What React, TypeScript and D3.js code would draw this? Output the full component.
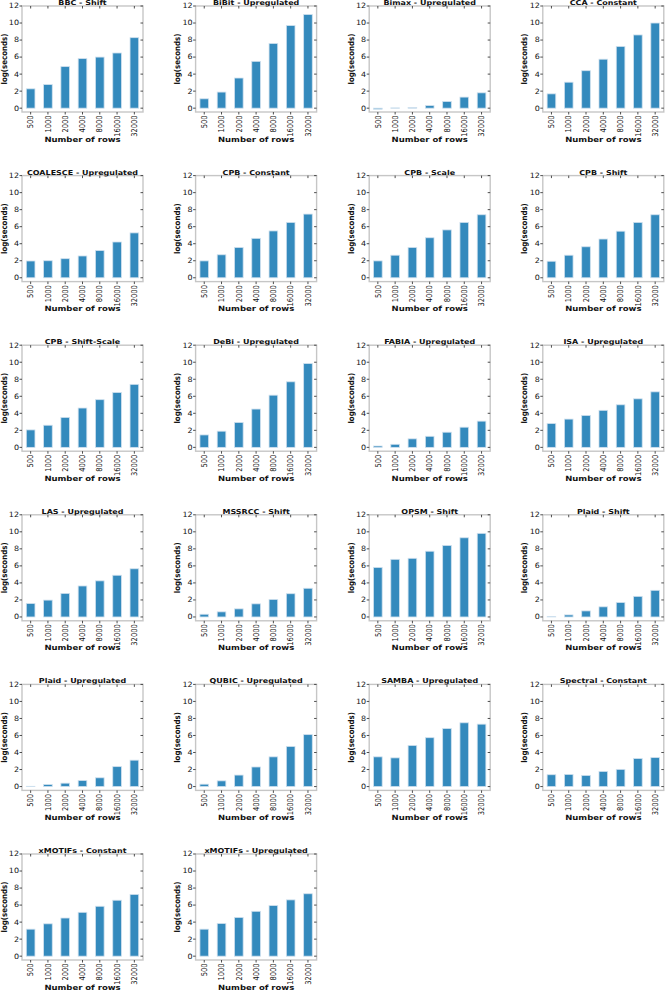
import * as d3 from "d3";

const WIDTH = 665;
const HEIGHT = 992;

const ROWS = ["500", "1000", "2000", "4000", "8000", "16000", "32000"];
const Y_TICKS = [0, 2, 4, 6, 8, 10, 12];

const bbcShift = [2.27, 2.77, 4.88, 5.82, 6.0, 6.48, 8.28];
const bibitUp = [1.1, 1.89, 3.54, 5.5, 7.6, 9.7, 11.0];
const bimaxUp = [-0.12, 0.03, 0.08, 0.3, 0.78, 1.3, 1.8];
const ccaConst = [1.68, 3.05, 4.4, 5.75, 7.25, 8.6, 10.0];
const coalesceUp = [1.97, 2.0, 2.24, 2.56, 3.19, 4.2, 5.27];
const cpbConst = [1.98, 2.7, 3.56, 4.63, 5.5, 6.5, 7.48];
const cpbScale = [1.98, 2.65, 3.56, 4.7, 5.62, 6.5, 7.4];
const cpbShift = [1.94, 2.65, 3.64, 4.55, 5.47, 6.5, 7.4];
const cpbShiftScale = [2.05, 2.6, 3.52, 4.62, 5.6, 6.44, 7.4];
const debiUp = [1.46, 1.9, 2.92, 4.5, 6.13, 7.7, 9.84];
const fabiaUp = [0.16, 0.36, 1.0, 1.3, 1.78, 2.37, 3.08];
const isaUp = [2.8, 3.32, 3.75, 4.35, 5.0, 5.7, 6.52];
const lasUp = [1.58, 1.98, 2.77, 3.64, 4.24, 4.9, 5.66];
const mssrccShift = [0.32, 0.6, 0.95, 1.54, 2.06, 2.73, 3.37];
const opsmShift = [5.82, 6.77, 6.89, 7.72, 8.4, 9.3, 9.82];
const plaidShift = [0.03, 0.24, 0.71, 1.19, 1.7, 2.42, 3.13];
const plaidUp = [0.03, 0.24, 0.4, 0.71, 1.03, 2.34, 3.1];
const qubicUp = [0.28, 0.67, 1.35, 2.3, 3.49, 4.71, 6.1];
const sambaUp = [3.49, 3.37, 4.83, 5.74, 6.81, 7.49, 7.33];
const spectralConst = [1.39, 1.43, 1.31, 1.78, 2.02, 3.29, 3.4];
const xmotifsConst = [3.17, 3.8, 4.48, 5.15, 5.86, 6.57, 7.25];
const xmotifsUp = [3.17, 3.84, 4.55, 5.27, 5.94, 6.61, 7.33];

const PANELS: { title: string; values: number[] }[] = [
  { title: "BBC - Shift", values: bbcShift },
  { title: "BiBit - Upregulated", values: bibitUp },
  { title: "Bimax - Upregulated", values: bimaxUp },
  { title: "CCA - Constant", values: ccaConst },
  { title: "COALESCE - Upregulated", values: coalesceUp },
  { title: "CPB - Constant", values: cpbConst },
  { title: "CPB - Scale", values: cpbScale },
  { title: "CPB - Shift", values: cpbShift },
  { title: "CPB - Shift-Scale", values: cpbShiftScale },
  { title: "DeBi - Upregulated", values: debiUp },
  { title: "FABIA - Upregulated", values: fabiaUp },
  { title: "ISA - Upregulated", values: isaUp },
  { title: "LAS - Upregulated", values: lasUp },
  { title: "MSSRCC - Shift", values: mssrccShift },
  { title: "OPSM - Shift", values: opsmShift },
  { title: "Plaid - Shift", values: plaidShift },
  { title: "Plaid - Upregulated", values: plaidUp },
  { title: "QUBIC - Upregulated", values: qubicUp },
  { title: "SAMBA - Upregulated", values: sambaUp },
  { title: "Spectral - Constant", values: spectralConst },
  { title: "xMOTIFs - Constant", values: xmotifsConst },
  { title: "xMOTIFs - Upregulated", values: xmotifsUp },
];

// panel grid geometry (axes box of each subplot)
const COL_LEFT = 22;
const COL_STEP = 173.6;
const ROW_TOP = 6;
const ROW_STEP = 169.6;
const AX_W = 121;
const AX_H = 106;

// the source figure looks squeezed vertically, so text is squashed along y
const SQUASH = 0.84;

const BAR_COLOR = "#348ABD";
const FONT = "DejaVu Sans, sans-serif";

const Panel = ({ title, values, left, top }: { title: string; values: number[]; left: number; top: number }) => {
  const x = d3.scaleLinear().domain([-0.5, ROWS.length - 0.5]).range([0, AX_W]);
  const y = d3.scaleLinear().domain([-0.45, 12]).range([AX_H, 0]);
  const barW = x(0.25) - x(-0.25);

  return (
    <g transform={`translate(${left},${top})`}>
      {values.map((v, i) => (
        <rect
          key={i}
          x={x(i) - barW / 2}
          y={Math.min(y(v), y(0))}
          width={barW}
          height={Math.abs(y(v) - y(0))}
          fill={BAR_COLOR}
          stroke="#cfe0ee"
          strokeWidth={0.8}
        />
      ))}
      <rect x={0} y={0} width={AX_W} height={AX_H} fill="none" stroke="#c6c6c6" strokeWidth={1.4} />
      {Y_TICKS.map((t) => (
        <g key={t}>
          <line x1={-2.5} x2={0} y1={y(t)} y2={y(t)} stroke="#222" strokeWidth={0.8} />
          <line x1={AX_W - 2.5} x2={AX_W} y1={y(t)} y2={y(t)} stroke="#222" strokeWidth={0.8} />
          <text
            transform={`translate(-3,${y(t)}) scale(1,${SQUASH + 0.08})`}
            textAnchor="end"
            dominantBaseline="central"
            fontSize={8}
            fontFamily={FONT}
            fill="#111"
          >
            {t}
          </text>
        </g>
      ))}
      {ROWS.map((r, i) => (
        <g key={r}>
          <line x1={x(i)} x2={x(i)} y1={AX_H} y2={AX_H + 2.5} stroke="#222" strokeWidth={0.8} />
          <line x1={x(i)} x2={x(i)} y1={0} y2={2.5} stroke="#222" strokeWidth={0.8} />
          <text
            transform={`translate(${x(i)},${AX_H + 3.5}) rotate(-90) scale(${SQUASH},1)`}
            textAnchor="end"
            dominantBaseline="central"
            fontSize={8}
            fontFamily={FONT}
            fill="#111"
          >
            {r}
          </text>
        </g>
      ))}
      <text
        transform={`translate(${AX_W / 2},-1) scale(1,${SQUASH})`}
        textAnchor="middle"
        fontSize={8}
        fontWeight="bold"
        fontFamily={FONT}
        fill="#111"
      >
        {title}
      </text>
      <text
        transform={`translate(${-18},${AX_H / 2}) rotate(-90) scale(${SQUASH + 0.04},1)`}
        textAnchor="middle"
        dominantBaseline="central"
        fontSize={8}
        fontWeight="bold"
        fontFamily={FONT}
        fill="#111"
      >
        log(seconds)
      </text>
      <text
        transform={`translate(${AX_W / 2},${AX_H + 29.5}) scale(1,${SQUASH})`}
        textAnchor="middle"
        fontSize={8.5}
        fontWeight="bold"
        fontFamily={FONT}
        fill="#111"
      >
        Number of rows
      </text>
    </g>
  );
};

export default function App() {
  return (
    <svg
      width={WIDTH}
      height={HEIGHT}
      style={{ position: "absolute", left: 0, top: 0, background: "#fff" }}
    >
      {PANELS.map((p, i) => (
        <Panel
          key={p.title}
          title={p.title}
          values={p.values}
          left={COL_LEFT + (i % 4) * COL_STEP}
          top={ROW_TOP + Math.floor(i / 4) * ROW_STEP}
        />
      ))}
    </svg>
  );
}
